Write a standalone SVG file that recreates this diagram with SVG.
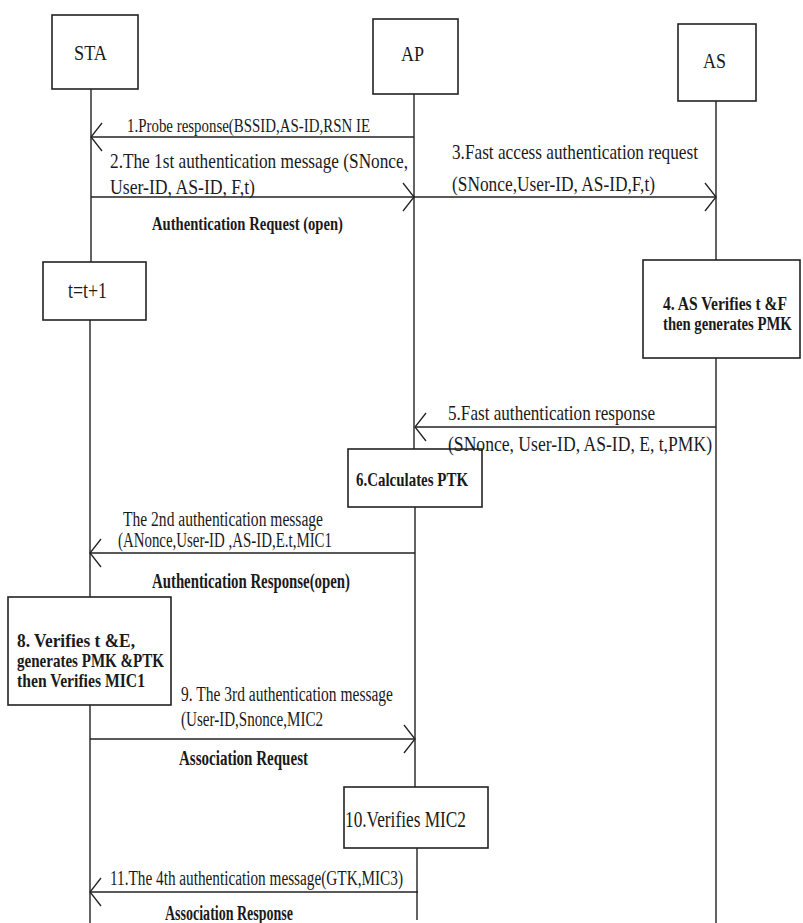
<svg xmlns="http://www.w3.org/2000/svg" width="803" height="923" viewBox="0 0 803 923">
<style>
  .box { fill: #fff; stroke: #222; stroke-width: 1.6; }
  .life { stroke: #222; stroke-width: 1.4; fill: none; }
  .msg { stroke: #222; stroke-width: 1.5; fill: none; marker-end: url(#arr); }
  text { font-family: "Liberation Serif", "Times New Roman", serif; fill: #1a1a1a; }
  .t { font-size: 19px; }
  .b { font-size: 19px; font-weight: bold; }
  .h { font-size: 22px; }
  .bx { font-size: 19px; font-weight: bold; }
</style>
<defs>
  <marker id="arr" viewBox="-13 -16 15 32" refX="0" refY="0" markerWidth="15" markerHeight="32" markerUnits="userSpaceOnUse" orient="auto">
    <path d="M-11,-14 L0,0 L-11,14" fill="none" stroke="#222" stroke-width="1.3"/>
  </marker>
</defs>
<rect width="803" height="923" fill="#fff"/>

<g id="lifelines">
  <line class="life" x1="91" y1="89" x2="91" y2="262"/>
  <line class="life" x1="90" y1="320" x2="90" y2="597"/>
  <line class="life" x1="90" y1="705" x2="90" y2="923"/>
  <line class="life" x1="414" y1="94" x2="414" y2="449"/>
  <line class="life" x1="415" y1="507" x2="415" y2="787"/>
  <line class="life" x1="417" y1="848" x2="417" y2="920"/>
  <line class="life" x1="716" y1="101" x2="716" y2="260"/>
  <line class="life" x1="716" y1="358" x2="716" y2="923"/>
</g>

<g id="STA">
  <rect class="box" x="52" y="15" width="86" height="74"/>
  <text class="h" x="74" y="60" textLength="33" lengthAdjust="spacingAndGlyphs">STA</text>
</g>
<g id="AP">
  <rect class="box" x="373" y="19" width="85" height="75"/>
  <text class="h" x="401" y="61" textLength="23" lengthAdjust="spacingAndGlyphs">AP</text>
</g>
<g id="AS">
  <rect class="box" x="678" y="24" width="78" height="77"/>
  <text class="h" x="703" y="68" textLength="23" lengthAdjust="spacingAndGlyphs">AS</text>
</g>
<g id="tinc">
  <rect class="box" x="43" y="262" width="103" height="58"/>
  <text style="font-size:24px" x="68" y="298" textLength="39" lengthAdjust="spacingAndGlyphs">t=t+1</text>
</g>
<g id="step4">
  <rect class="box" x="643" y="260" width="157" height="98"/>
  <text class="bx" transform="translate(663 310) scale(0.78 1)" x="0" y="0" textLength="159" lengthAdjust="spacingAndGlyphs">4. AS Verifies t &amp;F</text>
  <text class="bx" transform="translate(663 330) scale(0.78 1)" x="0" y="0" textLength="165" lengthAdjust="spacingAndGlyphs">then generates PMK</text>
</g>
<g id="step6">
  <rect class="box" x="348" y="449" width="134" height="58"/>
  <text class="b" x="356" y="486" textLength="112" lengthAdjust="spacingAndGlyphs">6.Calculates PTK</text>
</g>
<g id="step8">
  <rect class="box" x="8" y="597" width="163" height="108"/>
  <text class="bx" x="17" y="647" textLength="118" lengthAdjust="spacingAndGlyphs">8. Verifies t &amp;E,</text>
  <text class="bx" x="17" y="667" textLength="147" lengthAdjust="spacingAndGlyphs">generates PMK &amp;PTK</text>
  <text class="bx" x="17" y="687" textLength="128" lengthAdjust="spacingAndGlyphs">then Verifies MIC1</text>
</g>
<g id="step10">
  <rect class="box" x="344" y="787" width="144" height="61"/>
  <text style="font-size:24px" x="345" y="827" textLength="121" lengthAdjust="spacingAndGlyphs">10.Verifies MIC2</text>
</g>

<g id="connectors">
  <line class="msg" x1="414" y1="137" x2="91" y2="137"/>
  <line class="msg" x1="91" y1="197" x2="414" y2="197"/>
  <line class="msg" x1="414" y1="197" x2="716" y2="197"/>
  <line class="msg" x1="716" y1="427" x2="415" y2="427"/>
  <line class="msg" x1="415" y1="553" x2="90" y2="553"/>
  <line class="msg" x1="90" y1="739" x2="415" y2="739"/>
  <line class="msg" x1="418" y1="892" x2="90" y2="892"/>
</g>

<g id="labels">
  <text class="t" x="127" y="132" textLength="243" lengthAdjust="spacingAndGlyphs">1.Probe response(BSSID,AS-ID,RSN IE</text>
  <text class="t" style="font-size:21px" x="110" y="168" textLength="298" lengthAdjust="spacingAndGlyphs">2.The 1st authentication message (SNonce,</text>
  <text class="t" style="font-size:21px" x="110" y="194" textLength="145" lengthAdjust="spacingAndGlyphs">User-ID, AS-ID, F,t)</text>
  <text class="t" style="font-size:22px" x="452" y="159" textLength="246" lengthAdjust="spacingAndGlyphs">3.Fast access authentication request</text>
  <text class="t" style="font-size:22px" x="452" y="191" textLength="203" lengthAdjust="spacingAndGlyphs">(SNonce,User-ID, AS-ID,F,t)</text>
  <text class="b" x="152" y="230" textLength="191" lengthAdjust="spacingAndGlyphs">Authentication Request (open)</text>
  <text class="t" style="font-size:21px" x="448" y="420" textLength="207" lengthAdjust="spacingAndGlyphs">5.Fast authentication response</text>
  <text class="t" style="font-size:21px" x="448" y="451" textLength="264" lengthAdjust="spacingAndGlyphs">(SNonce, User-ID, AS-ID, E, t,PMK)</text>
  <text class="t" style="font-size:20px" x="123" y="526" textLength="200" lengthAdjust="spacingAndGlyphs">The 2nd authentication message</text>
  <text class="t" style="font-size:20px" x="118" y="547" textLength="214" lengthAdjust="spacingAndGlyphs">(ANonce,User-ID ,AS-ID,E.t,MIC1</text>
  <text class="b" style="font-size:20px" x="152" y="588" textLength="198" lengthAdjust="spacingAndGlyphs">Authentication Response(open)</text>
  <text class="t" style="font-size:20px" x="181" y="701" textLength="212" lengthAdjust="spacingAndGlyphs">9. The 3rd authentication message</text>
  <text class="t" style="font-size:20px" x="181" y="726" textLength="142" lengthAdjust="spacingAndGlyphs">(User-ID,Snonce,MIC2</text>
  <text class="b" style="font-size:20px" x="179" y="765" textLength="129" lengthAdjust="spacingAndGlyphs">Association Request</text>
  <text class="t" style="font-size:20px" x="110" y="885" textLength="293" lengthAdjust="spacingAndGlyphs">11.The 4th authentication message(GTK,MIC3)</text>
  <text class="b" style="font-size:20px" x="165" y="920" textLength="128" lengthAdjust="spacingAndGlyphs">Association Response</text>
</g>
</svg>
